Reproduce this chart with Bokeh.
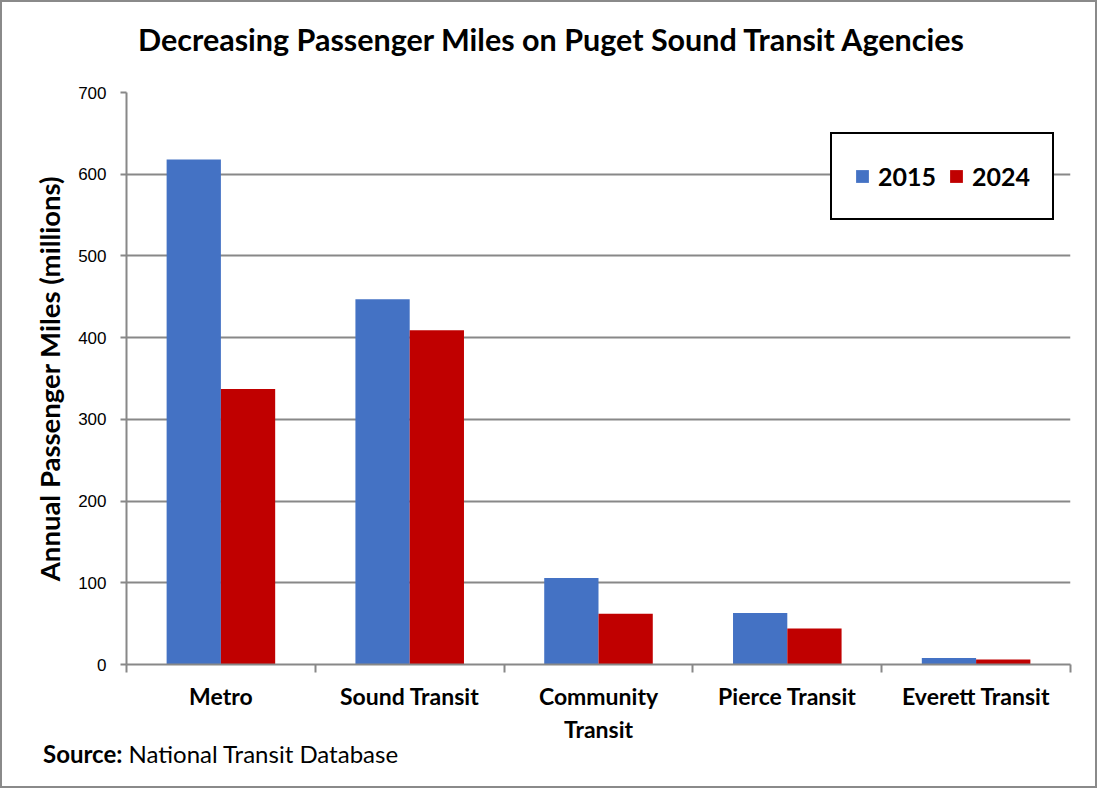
from bokeh.plotting import figure
from bokeh.layouts import column
from bokeh.models import (ColumnDataSource, Range1d, FixedTicker, Legend, LegendItem, Div)
from bokeh.transform import dodge
from bokeh.embed import file_html
from bokeh.resources import INLINE

agencies = ["Metro", "Sound Transit", "Community Transit", "Pierce Transit", "Everett Transit"]
tick_labels = ["Metro", "Sound Transit", "Community\nTransit", "Pierce Transit", "Everett Transit"]
y2015 = [618, 447, 106, 63, 8]
y2024 = [337, 409, 62, 44, 6]
y_ticks = [0, 100, 200, 300, 400, 500, 600, 700]
title_text = "Decreasing Passenger Miles on Puget Sound Transit Agencies"
source_bold = "Source:"
source_text = "National Transit Database"

BLUE = "#4472C4"
RED = "#C00000"
GRAY = "#888888"
FONT = "Lato"

W, H0, H1, H2 = 1093, 74, 671, 39
L, R, T, B = 124, 25, 16, 83

n = len(agencies)
centers = [i + 0.5 for i in range(n)]      # category slot centres
bounds = list(range(n + 1))                 # category slot boundaries
src = ColumnDataSource(dict(agency=agencies, xc=centers, y2015=y2015, y2024=y2024))

# title strip
head = Div(text=title_text, width=W, height=H0, margin=0,
           styles={"font-family": FONT, "font-weight": "bold", "font-size": "30.5px",
                   "color": "black", "line-height": "74px", "padding-left": "136px",
                   "background-color": "white", "white-space": "nowrap"})

p = figure(width=W, height=H1, x_range=Range1d(0, n), y_range=Range1d(0, 700),
           output_backend="svg", toolbar_location=None,
           min_border_left=L, min_border_right=R, min_border_top=T, min_border_bottom=B)
p.outline_line_color = None
p.background_fill_color = "white"
p.border_fill_color = "white"

r1 = p.vbar(x=dodge("xc", -0.14375), top="y2015", width=0.2875,
            source=src, fill_color=BLUE, line_color=None)
r2 = p.vbar(x=dodge("xc", 0.14375), top="y2024", width=0.2875,
            source=src, fill_color=RED, line_color=None)

xax = p.xaxis[0]
xax.ticker = FixedTicker(ticks=centers, minor_ticks=bounds)
xax.major_label_overrides = {c: t for c, t in zip(centers, tick_labels)}
xax.axis_line_color = GRAY
xax.axis_line_width = 2
xax.major_tick_line_color = None
xax.major_tick_out = 0
xax.major_tick_in = 0
xax.minor_tick_line_color = GRAY
xax.minor_tick_line_width = 2
xax.minor_tick_out = 8
xax.minor_tick_in = 0
xax.major_label_standoff = 9
xax.major_label_text_font = FONT
xax.major_label_text_font_style = "bold"
xax.major_label_text_font_size = "23px"
xax.major_label_text_color = "black"

yax = p.yaxis[0]
yax.ticker = FixedTicker(ticks=y_ticks)
yax.axis_line_color = GRAY
yax.axis_line_width = 2
yax.major_tick_line_color = GRAY
yax.major_tick_line_width = 2
yax.major_tick_out = 6
yax.major_tick_in = 0
yax.minor_tick_line_color = None
yax.major_label_standoff = 14
yax.major_label_text_font = "Liberation Sans"
yax.major_label_text_font_size = "17px"
yax.major_label_text_color = "black"
yax.axis_label = "Annual Passenger Miles (millions)"
yax.axis_label_text_font = FONT
yax.axis_label_text_font_style = "bold"
yax.axis_label_text_font_size = "27.5px"
yax.axis_label_text_color = "black"
yax.axis_label_standoff = 9

p.xgrid.grid_line_color = None
p.ygrid.grid_line_color = GRAY
p.ygrid.grid_line_width = 2

legend = Legend(items=[LegendItem(label="2015", renderers=[r1]),
                       LegendItem(label="2024", renderers=[r2])],
                orientation="horizontal", location=(704, 444))
legend.border_line_color = "black"
legend.border_line_alpha = 1.0
legend.border_line_width = 2
legend.background_fill_color = "white"
legend.background_fill_alpha = 1.0
legend.label_text_font = FONT
legend.label_text_font_style = "bold"
legend.label_text_font_size = "25px"
legend.label_text_color = "black"
legend.label_height = 40
legend.glyph_width = 16
legend.glyph_height = 16
legend.label_standoff = 8
legend.spacing = 12
legend.padding = 22
legend.margin = 0
p.add_layout(legend, "center")

# source line as an HTML strip below the chart (bold lead-in + regular text)
note = Div(text=f"<b>{source_bold}</b> {source_text}", width=W, height=H2, margin=0,
           styles={"font-family": FONT, "font-size": "24px", "color": "black",
                   "line-height": "14px", "padding-left": "41px",
                   "background-color": "white", "white-space": "nowrap"})

lay = column(head, p, note, spacing=0)
lay.styles = {"border": "2px solid #8a8a8a", "background-color": "white"}

open("out.html", "w").write(file_html(lay, INLINE))
